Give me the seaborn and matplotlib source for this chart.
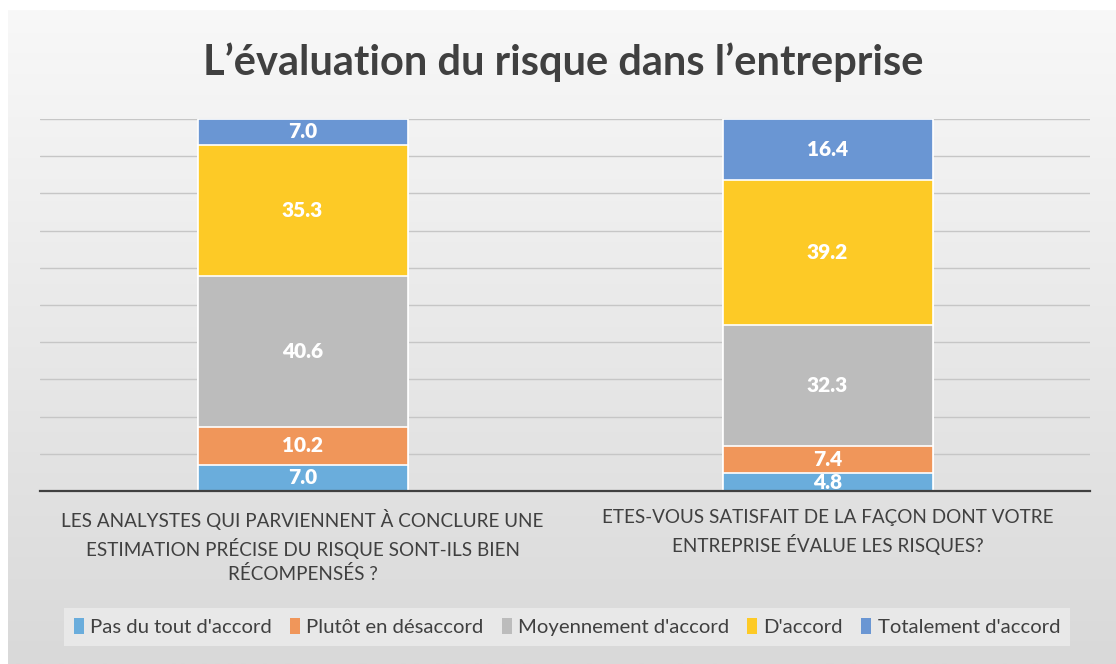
import matplotlib.pyplot as plt
import numpy as np
import pandas as pd
import seaborn as sns
from matplotlib.patches import Patch

questions = ["LES ANALYSTES QUI PARVIENNENT À CONCLURE UNE\nESTIMATION PRÉCISE DU RISQUE SONT-ILS BIEN\nRÉCOMPENSÉS ?",
             "ETES-VOUS SATISFAIT DE LA FAÇON DONT VOTRE\nENTREPRISE ÉVALUE LES RISQUES?"]
answers = ["Pas du tout d'accord", "Plutôt en désaccord", "Moyennement d'accord",
           "D'accord", "Totalement d'accord"]
pas_du_tout = [7.0, 4.8]
plutot_desaccord = [10.2, 7.4]
moyennement = [40.6, 32.3]
d_accord = [35.3, 39.2]
totalement = [7.0, 16.4]
colors = ["#6aaddc", "#f0965a", "#bcbcbc", "#fdca26", "#6a96d3"]

series = [pas_du_tout, plutot_desaccord, moyennement, d_accord, totalement]
cum = np.cumsum(np.array(series), axis=0)

sns.set_theme(style="white")
plt.rcParams['font.family'] = ['Lato', 'DejaVu Sans']

fig = plt.figure(figsize=(11.16, 6.64), dpi=100)

# gradient background panel
bg = fig.add_axes([8 / 1116, 0, 1 - 8 / 1116, 1 - 10 / 664])
grad = np.linspace(0, 1, 256).reshape(-1, 1)
bg.imshow(grad, aspect='auto', cmap=plt.matplotlib.colors.LinearSegmentedColormap.from_list(
    "g", ["#f8f8f8", "#d9d9d9"]), extent=[0, 1, 0, 1], origin='upper')
bg.set_axis_off()

ax = fig.add_axes([40 / 1116, 1 - 491 / 664, 1050 / 1116, 372 / 664])
ax.patch.set_alpha(0)

# stacked bars: draw cumulative totals from top layer down
for i in range(len(answers) - 1, -1, -1):
    df = pd.DataFrame({"q": questions, "v": cum[i]})
    sns.barplot(data=df, x="q", y="v", color=colors[i], width=0.4, saturation=1,
                edgecolor="white", linewidth=1.2, ax=ax, zorder=3)

for i in range(len(answers)):
    for j in range(len(questions)):
        v = series[i][j]
        ax.text(j, cum[i][j] - v / 2, f"{v:.1f}", ha="center", va="center",
                color="white", fontsize=15, fontweight="heavy", zorder=5)

ax.set_ylim(0, 100)
ax.set_xlim(-0.5, 1.5)
ax.set_yticks(np.arange(10, 101, 10))
ax.yaxis.grid(True, color="#c6c6c6", linewidth=1, zorder=0)
ax.set_yticklabels([])
ax.tick_params(axis="y", length=0)
ax.tick_params(axis="x", length=0, pad=13, labelsize=13.6, labelcolor="#404040")
for lbl in ax.get_xticklabels():
    lbl.set_linespacing(1.42)
ax.set_xlabel("")
ax.set_ylabel("")
for s in ["top", "right", "left"]:
    ax.spines[s].set_visible(False)
ax.spines["bottom"].set_color("#404040")
ax.spines["bottom"].set_linewidth(1.6)
ax.spines["bottom"].set_zorder(6)

fig.text(0.505, 1 - 62 / 664, "L’évaluation du risque dans l’entreprise", ha="center", va="center",
         fontsize=30, fontweight="bold", color="#404040")

handles = [Patch(facecolor=c, edgecolor="none") for c in colors]
leg = fig.legend(handles, answers, loc="center", bbox_to_anchor=(0.508, 1 - 627 / 664), ncol=5,
                 frameon=True, fontsize=14.6, handlelength=0.5, handleheight=0.8,
                 handletextpad=0.3, columnspacing=0.9, borderpad=0.5, fancybox=False)
leg.get_frame().set_facecolor("#ececec")
leg.get_frame().set_edgecolor("none")
for t in leg.get_texts():
    t.set_color("#404040")

fig.savefig("out.png", dpi=100)
